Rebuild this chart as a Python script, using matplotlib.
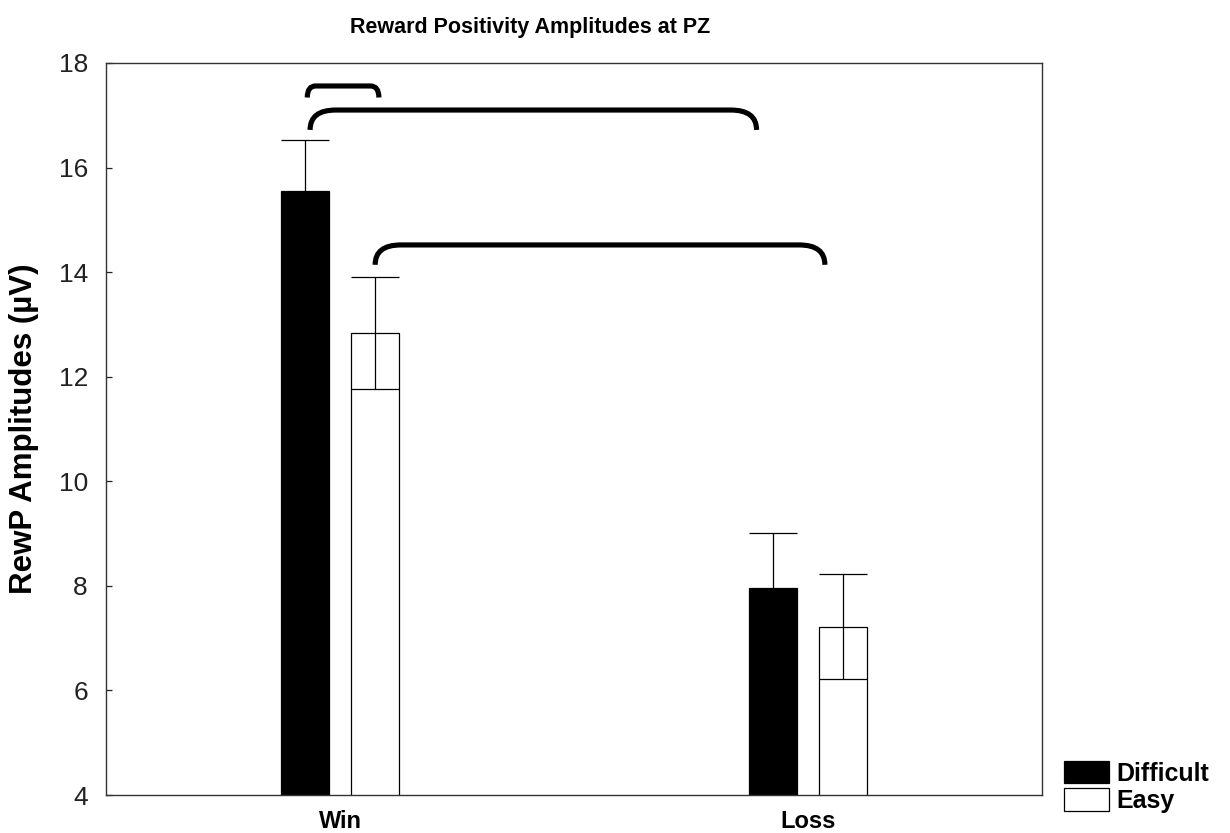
import numpy as np
import matplotlib.pyplot as plt
from matplotlib.path import Path
from matplotlib.patches import PathPatch

plt.rcParams['font.family'] = ['Liberation Sans', 'DejaVu Sans']

groups = ['Win', 'Loss']
conditions = ['Difficult', 'Easy']
difficult = [15.55, 7.95]
easy = [12.84, 7.22]
difficult_err = [0.97, 1.06]
easy_err = [1.07, 1.0]

# significance brackets: (x start, x end, top y, bottom y)
brackets = [(-0.070, 0.083, 17.56, 17.34),
            (-0.064, 0.890, 17.10, 16.72),
            (0.075, 1.036, 14.52, 14.14)]

x = np.arange(len(groups))
w = 0.102
off = 0.075

fig = plt.figure(figsize=(12.3, 8.33), dpi=100)
ax = fig.add_axes([0.0862, 0.0456, 0.7610, 0.8788])

err_kw = dict(ecolor='black', elinewidth=0.9, capsize=17.3, capthick=0.9)
ax.bar(x - off, difficult, w, color='black', edgecolor='black',
       linewidth=0.9, yerr=difficult_err, error_kw=err_kw, label='Difficult')
ax.bar(x + off, easy, w, color='white', edgecolor='black',
       linewidth=0.9, yerr=easy_err, error_kw=err_kw, label='Easy')

for x1, x2, yt, yb in brackets:
    dx = 0.055 if x2 - x1 > 0.3 else 0.018
    verts = [(x1, yb), (x1, yt), (x1 + dx, yt), (x2 - dx, yt),
             (x2, yt), (x2, yb)]
    codes = [Path.MOVETO, Path.CURVE3, Path.CURVE3, Path.LINETO,
             Path.CURVE3, Path.CURVE3]
    ax.add_patch(PathPatch(Path(verts, codes), facecolor='none',
                           edgecolor='black', lw=3.7, capstyle='butt',
                           clip_on=False))

ax.set_xlim(-0.5, 1.5)
ax.set_ylim(4, 18)
ax.set_yticks(range(4, 19, 2))
ax.set_xticks(x)
ax.set_xticklabels(groups, fontsize=17, fontweight='bold')
ax.tick_params(axis='x', length=0, pad=11)
ax.tick_params(axis='y', direction='in', length=4, width=0.9, pad=13,
               labelsize=19, colors='#222222')
for s in ax.spines.values():
    s.set_linewidth(1.0)
    s.set_color('#333333')

ax.set_ylabel('RewP Amplitudes (µV)', fontsize=22.5, fontweight='bold',
              labelpad=14)
fig.text(530 / 1230, 1 - 27 / 833, 'Reward Positivity Amplitudes at PZ',
         ha='center', va='center', fontsize=15.5, fontweight='bold')

fig.legend(loc='lower left', bbox_to_anchor=(1064 / 1230, 20 / 833),
           frameon=False, prop={'weight': 'bold', 'size': 18},
           handlelength=1.8, handleheight=1.0, labelspacing=0.1,
           handletextpad=0.3, borderaxespad=0, borderpad=0)

fig.savefig('out.png', dpi=100)
